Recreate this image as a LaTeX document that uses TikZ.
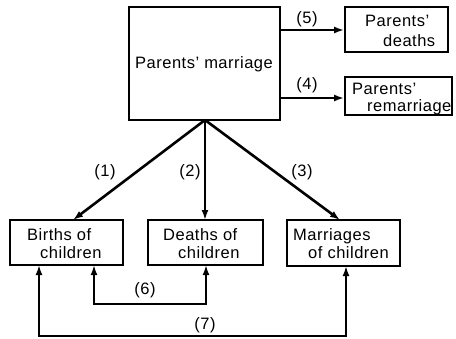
\documentclass[tikz,border=0pt]{standalone}
\usepackage{fontspec}
\setmainfont{Liberation Sans}[LetterSpace=3]
\usetikzlibrary{arrows.meta}
\begin{document}
\begin{tikzpicture}[x=1pt,y=-1pt,
  box/.style={draw, line width=1.8pt, inner sep=0pt},
  txt/.style={anchor=base west, inner sep=0pt, font=\fontsize{16.5}{18}\selectfont},
  lab/.style={inner sep=0pt, font=\fontsize{16.5}{18}\selectfont},
  link/.style={line width=2.6pt, -{Latex[length=10pt,width=7pt]}},
  twoway/.style={line width=2.6pt, {Latex[length=10pt,width=7pt]}-{Latex[length=10pt,width=7pt]}}]
\useasboundingbox (0,0) rectangle (456,338);

% boxes
\node[box, minimum width=151pt, minimum height=113pt] (main) at (204.5,63.5) {};
\node[box, minimum width=103pt, minimum height=45pt] (pdeaths) at (396.5,29.5) {};
\node[box, minimum width=107pt, minimum height=38pt] (premar) at (398.5,96) {};
\node[box, minimum width=113pt, minimum height=45pt] (births) at (66.5,242.5) {};
\node[box, minimum width=115pt, minimum height=45pt] (cdeaths) at (205.5,242.5) {};
\node[box, minimum width=113pt, minimum height=46pt] (cmarr) at (343.5,243) {};

% box texts
\node[txt] (mainT) at (135,68) {Parents' marriage};
\node[txt] (pdeathsA) at (365,26) {Parents'};
\node[txt] (pdeathsB) at (383,46) {deaths};
\node[txt] (premarA) at (352,94) {Parents'};
\node[txt] (premarB) at (367,111) {remarriage};
\node[txt] (birthsA) at (27,240) {Births of};
\node[txt] (birthsB) at (40,258) {children};
\node[txt] (cdeathsA) at (163,240) {Deaths of};
\node[txt] (cdeathsB) at (178,258) {children};
\node[txt] (cmarrA) at (293,240) {Marriages};
\node[txt] (cmarrB) at (308,258) {of children};

% connector end points
\coordinate (fan) at (205,120);
\coordinate (birthsTop) at (73,220);
\coordinate (cdeathsTop) at (205,220);
\coordinate (cmarrTop) at (340,220);
\coordinate (birthsBotA) at (94,265);
\coordinate (cdeathsBot) at (206,265);
\coordinate (birthsBotB) at (39,265);
\coordinate (cmarrBot) at (346,266);

% links from the parents' marriage
\draw[link] (fan) -- (birthsTop);
\draw[link] (fan) -- (cdeathsTop);
\draw[link] (fan) -- (cmarrTop);
\draw[link] (main.east |- 0,30) -- (pdeaths.west |- 0,30);
\draw[link] (main.east |- 0,98) -- (premar.west |- 0,98);

% links between the children's events
\draw[twoway] (birthsBotA) -- (94,304) -- (206,304) -- (cdeathsBot);
\draw[twoway] (birthsBotB) -- (39,336) -- (346,336) -- (cmarrBot);

% labels
\node[lab] (l1) at (105,172) {(1)};
\node[lab] (l2) at (190,172) {(2)};
\node[lab] (l3) at (302,172) {(3)};
\node[lab] (l4) at (307,85) {(4)};
\node[lab] (l5) at (307,19) {(5)};
\node[lab] (l6) at (145,290) {(6)};
\node[lab] (l7) at (205,325) {(7)};
\end{tikzpicture}
\end{document}
